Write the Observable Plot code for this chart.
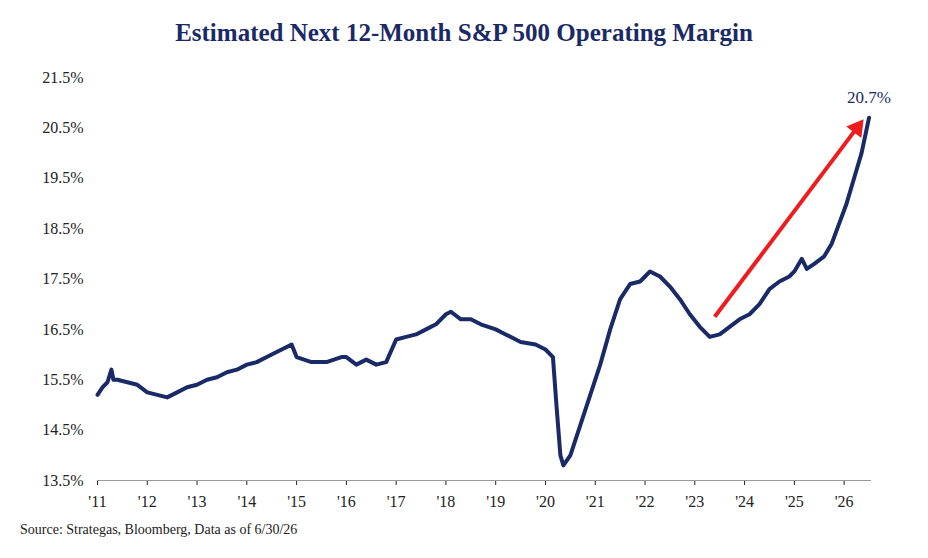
<!DOCTYPE html>
<html><head><meta charset="utf-8">
<script src="https://cdn.jsdelivr.net/npm/d3@7"></script>
<script src="https://cdn.jsdelivr.net/npm/@observablehq/plot@0.6"></script>
<style>
body{margin:0;background:#fff;font-family:"DejaVu Serif","Liberation Serif",serif;}
#wrap{width:928px;height:558px;position:relative;overflow:hidden;}
#title{height:55px;line-height:66px;text-align:center;font-size:25px;font-weight:bold;color:#1a2a66;font-family:"Liberation Serif","DejaVu Serif",serif;}
#cap{position:absolute;left:20px;top:522px;font-size:14px;color:#222;font-family:"Liberation Serif",serif;}
</style></head><body>
<div id="wrap"><div id="title">Estimated Next 12-Month S&amp;P 500 Operating Margin</div><div id="chart"></div>
<div id="cap">Source: Strategas, Bloomberg, Data as of 6/30/26</div></div>
<script>
const years=[2011.0,2011.1,2011.2,2011.28,2011.32,2011.4,2011.6,2011.8,2012.0,2012.2,2012.4,2012.6,2012.8,2013.0,2013.2,2013.4,2013.6,2013.8,2014.0,2014.2,2014.4,2014.6,2014.8,2014.9,2015.0,2015.3,2015.6,2015.9,2016.0,2016.2,2016.4,2016.6,2016.8,2017.0,2017.2,2017.4,2017.6,2017.8,2018.0,2018.1,2018.3,2018.5,2018.7,2019.0,2019.2,2019.5,2019.8,2020.0,2020.15,2020.22,2020.3,2020.36,2020.5,2020.7,2020.9,2021.1,2021.3,2021.5,2021.7,2021.9,2022.0,2022.1,2022.3,2022.5,2022.7,2022.9,2023.1,2023.3,2023.5,2023.7,2023.9,2024.1,2024.3,2024.5,2024.7,2024.9,2025.0,2025.15,2025.25,2025.4,2025.6,2025.75,2025.9,2026.05,2026.2,2026.35,2026.5];
const margins=[15.2,15.35,15.45,15.7,15.5,15.5,15.45,15.4,15.25,15.2,15.15,15.25,15.35,15.4,15.5,15.55,15.65,15.7,15.8,15.85,15.95,16.05,16.15,16.2,15.95,15.85,15.85,15.95,15.95,15.8,15.9,15.8,15.85,16.3,16.35,16.4,16.5,16.6,16.8,16.85,16.7,16.7,16.6,16.5,16.4,16.25,16.2,16.1,15.95,15.0,14.0,13.8,14.0,14.6,15.2,15.8,16.5,17.1,17.4,17.45,17.55,17.65,17.55,17.35,17.1,16.8,16.55,16.35,16.4,16.55,16.7,16.8,17.0,17.3,17.45,17.55,17.65,17.9,17.7,17.8,17.95,18.2,18.6,19.0,19.5,20.0,20.7];
const yTicks=[13.5,14.5,15.5,16.5,17.5,18.5,19.5,20.5,21.5];
const xTicks=d3.range(2011,2027);
const data=years.map((x,i)=>({x,y:margins[i]}));
const last=data[data.length-1];
const arrow=[{x1:2023.4,y1:16.75,x2:2026.22,y2:20.45}];
const head=[{x:2026.26,y:20.5}];
const navy="#1a2a66";
const chart=Plot.plot({
  width:928,height:460,marginTop:22,marginBottom:35,marginLeft:97,marginRight:57,
  style:{fontFamily:"Liberation Serif, serif",fontSize:"16px",color:"#222"},
  x:{domain:[2011,2026.55],ticks:xTicks,tickFormat:d=>"'"+String(d).slice(2),label:null,tickSize:5,tickPadding:10},
  y:{domain:[13.5,21.5],ticks:yTicks,tickFormat:d=>d.toFixed(1)+"%",label:null,tickSize:0,tickPadding:14},
  marks:[
    Plot.ruleY([13.5],{stroke:"#999"}),
    Plot.line(data,{x:"x",y:"y",stroke:navy,strokeWidth:4,curve:"linear"}),
    Plot.link(arrow,{x1:"x1",y1:"y1",x2:"x2",y2:"y2",stroke:"#ee1c1c",strokeWidth:4}),
    Plot.dot(head,{x:"x",y:"y",symbol:"triangle",r:7,fill:"#ee1c1c",stroke:"none",rotate:37}),
    Plot.text([last],{x:"x",y:"y",text:d=>d.y.toFixed(1)+"%",dy:-20,dx:0,fill:navy,fontSize:17})
  ]
});
document.getElementById("chart").append(chart);
</script></body></html>
